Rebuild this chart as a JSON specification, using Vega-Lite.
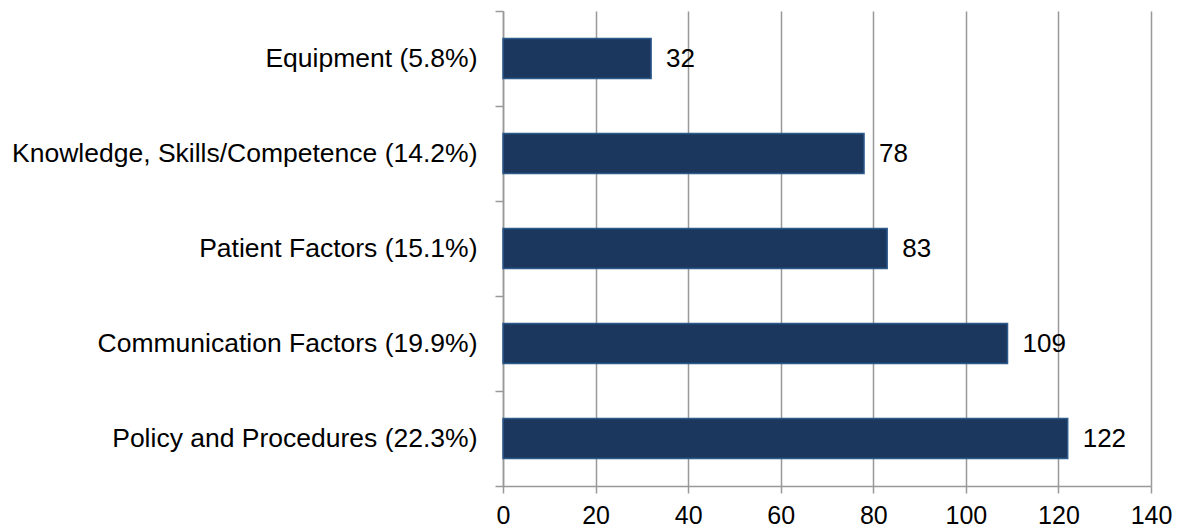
{
  "$schema": "https://vega.github.io/schema/vega-lite/v6.json",
  "autosize": {"type": "none"},
  "padding": {"left": 503, "top": 11, "right": 33, "bottom": 45},
  "width": 648,
  "height": 475,
  "background": "white",
  "config": {
    "view": {"stroke": null},
    "font": "Liberation Sans"
  },
  "data": {
    "values": [
      {"category": "Equipment (5.8%)", "count": 32},
      {"category": "Knowledge, Skills/Competence (14.2%)", "count": 78},
      {"category": "Patient Factors (15.1%)", "count": 83},
      {"category": "Communication Factors (19.9%)", "count": 109},
      {"category": "Policy and Procedures (22.3%)", "count": 122}
    ]
  },
  "encoding": {
    "y": {
      "field": "category",
      "type": "nominal",
      "sort": null,
      "scale": {"paddingInner": 0, "paddingOuter": 0},
      "axis": {
        "title": null,
        "tickBand": "extent",
        "tickSize": 8,
        "tickColor": "#999999",
        "tickWidth": 1.5,
        "domainColor": "#999999",
        "domainWidth": 1.5,
        "labelFont": "Liberation Sans",
        "labelFontSize": 26.5,
        "labelColor": "#000000",
        "labelPadding": 18,
        "labelLimit": 600,
        "grid": false
      }
    },
    "x": {
      "field": "count",
      "type": "quantitative",
      "scale": {"domain": [0, 140], "nice": false},
      "axis": {
        "title": null,
        "values": [0, 20, 40, 60, 80, 100, 120, 140],
        "grid": true,
        "gridColor": "#999999",
        "gridWidth": 1.5,
        "tickSize": 7,
        "tickColor": "#999999",
        "tickWidth": 1.5,
        "domainColor": "#999999",
        "domainWidth": 1.5,
        "labelFont": "Liberation Sans",
        "labelFontSize": 25,
        "labelColor": "#000000",
        "labelPadding": 10,
        "labelFlush": false
      }
    }
  },
  "layer": [
    {
      "mark": {"type": "bar", "height": {"band": 0.42}, "color": "#1b375e", "stroke": "#2d5a8c", "strokeWidth": 1.5}
    },
    {
      "mark": {"type": "text", "align": "left", "baseline": "middle", "dx": 15, "fontSize": 26, "font": "Liberation Sans", "color": "#000000"},
      "encoding": {"text": {"field": "count", "type": "quantitative"}}
    }
  ]
}
